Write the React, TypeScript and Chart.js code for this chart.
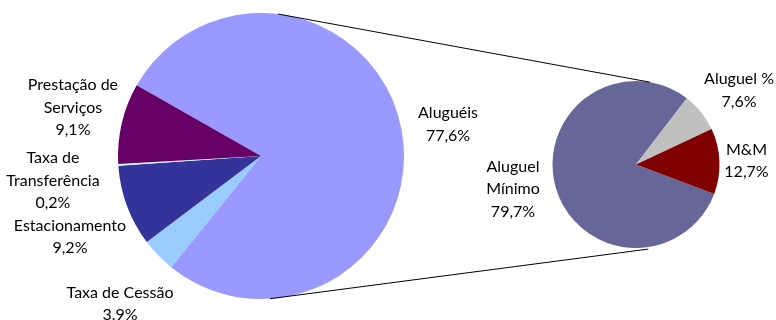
import React, { useEffect, useRef } from "react";
import { Chart, registerables } from "chart.js";

Chart.register(...registerables);

// ---- data ----
const mainCategories: string[][] = [
  ["Aluguéis"],
  ["Taxa de Cessão"],
  ["Estacionamento"],
  ["Taxa de", "Transferência"],
  ["Prestação de", "Serviços"],
];
const mainValues = [77.6, 3.9, 9.2, 0.2, 9.1];
const mainValueLabels = ["77,6%", "3.9%", "9,2%", "0,2%", "9,1%"];
const mainColors = ["#9999FF", "#99CCFF", "#333399", "#CCFFFF", "#660066"];

const subCategories: string[][] = [["Aluguel", "Mínimo"], ["Aluguel %"], ["M&M"]];
const subValues = [79.7, 7.6, 12.7];
const subValueLabels = ["79,7%", "7,6%", "12,7%"];
const subColors = ["#666699", "#C0C0C0", "#800000"];

// ---- layout / style ----
const W = 776;
const H = 320;
const FONT = '16px "Lato", "Liberation Sans", sans-serif';
const LINE_H = 22.5;
// label centre offsets in units of the pie radius
const mainLabelOffsets: [number, number][] = [
  [1.308, -0.22],
  [-0.986, 1.035],
  [-1.336, 0.566],
  [-1.455, 0.172],
  [-1.315, -0.339],
];
const subLabelOffsets: [number, number][] = [
  [-1.473, 0.293],
  [1.234, -0.886],
  [1.323, -0.042],
];

function makeLabelPlugin(offsets: [number, number][], names: string[][], values: string[]) {
  return {
    id: "pieLabels",
    afterDraw(chart: any) {
      const meta = chart.getDatasetMeta(0);
      const ctx = chart.ctx as CanvasRenderingContext2D;
      ctx.save();
      ctx.font = FONT;
      ctx.fillStyle = "#000";
      ctx.textAlign = "center";
      ctx.textBaseline = "middle";
      meta.data.forEach((arc: any, i: number) => {
        const { x, y, outerRadius } = arc.getProps(["x", "y", "outerRadius"], true);
        const [ox, oy] = offsets[i];
        const cx = x + ox * outerRadius;
        const cy = y + oy * outerRadius;
        const lines = [...names[i], values[i]];
        lines.forEach((t, k) => {
          ctx.fillText(t, cx, cy + (k - (lines.length - 1) / 2) * LINE_H);
        });
      });
      ctx.restore();
    },
  };
}

function pointOn(arc: any, deg: number) {
  const { x, y, outerRadius } = arc.getProps(["x", "y", "outerRadius"], true);
  const a = (deg * Math.PI) / 180;
  return [x + outerRadius * Math.sin(a), y - outerRadius * Math.cos(a)];
}

export default function App() {
  const mainRef = useRef<HTMLCanvasElement>(null);
  const subRef = useRef<HTMLCanvasElement>(null);

  useEffect(() => {
    const main = new Chart(mainRef.current!, {
      type: "pie",
      data: {
        labels: mainCategories.map((c) => c.join(" ")),
        datasets: [
          {
            data: mainValues,
            backgroundColor: mainColors,
            borderWidth: 0,
            hoverOffset: 0,
            offset: 0,
          },
        ],
      },
      options: {
        responsive: false,
        animation: false,
        events: [],
        rotation: 299.6,
        layout: { padding: { left: 118, right: W - 404, top: 13, bottom: H - 299 } },
        plugins: { legend: { display: false }, tooltip: { enabled: false } },
      },
      plugins: [makeLabelPlugin(mainLabelOffsets, mainCategories, mainValueLabels)],
    });

    const connector = {
      id: "connector",
      afterDraw(chart: any) {
        const mArc = main.getDatasetMeta(0).data[0];
        const sArc = chart.getDatasetMeta(0).data[0];
        const ctx = chart.ctx as CanvasRenderingContext2D;
        const p1 = pointOn(mArc, 6.9);
        const p2 = pointOn(sArc, 9.5);
        const p3 = pointOn(mArc, 176.4);
        const p4 = pointOn(sArc, 171.5);
        ctx.save();
        ctx.strokeStyle = "#000";
        ctx.lineWidth = 1;
        ctx.beginPath();
        ctx.moveTo(p1[0], p1[1]);
        ctx.lineTo(p2[0], p2[1]);
        ctx.moveTo(p3[0], p3[1]);
        ctx.lineTo(p4[0], p4[1] + 2);
        ctx.stroke();
        ctx.restore();
      },
    };

    const sub = new Chart(subRef.current!, {
      type: "pie",
      data: {
        labels: subCategories.map((c) => c.join(" ")),
        datasets: [
          {
            data: subValues,
            backgroundColor: subColors,
            borderWidth: 0,
            hoverOffset: 0,
            offset: 0,
          },
        ],
      },
      options: {
        responsive: false,
        animation: false,
        events: [],
        rotation: 110.6,
        layout: { padding: { left: 552.5, right: W - 719.5, top: 81, bottom: H - 248 } },
        plugins: { legend: { display: false }, tooltip: { enabled: false } },
      },
      plugins: [makeLabelPlugin(subLabelOffsets, subCategories, subValueLabels), connector],
    });

    return () => {
      sub.destroy();
      main.destroy();
    };
  }, []);

  return (
    <div style={{ position: "fixed", left: 0, top: 0, width: W, height: H, background: "#fff" }}>
      <canvas ref={mainRef} width={W} height={H} style={{ position: "absolute", left: 0, top: 0 }} />
      <canvas ref={subRef} width={W} height={H} style={{ position: "absolute", left: 0, top: 0 }} />
    </div>
  );
}
